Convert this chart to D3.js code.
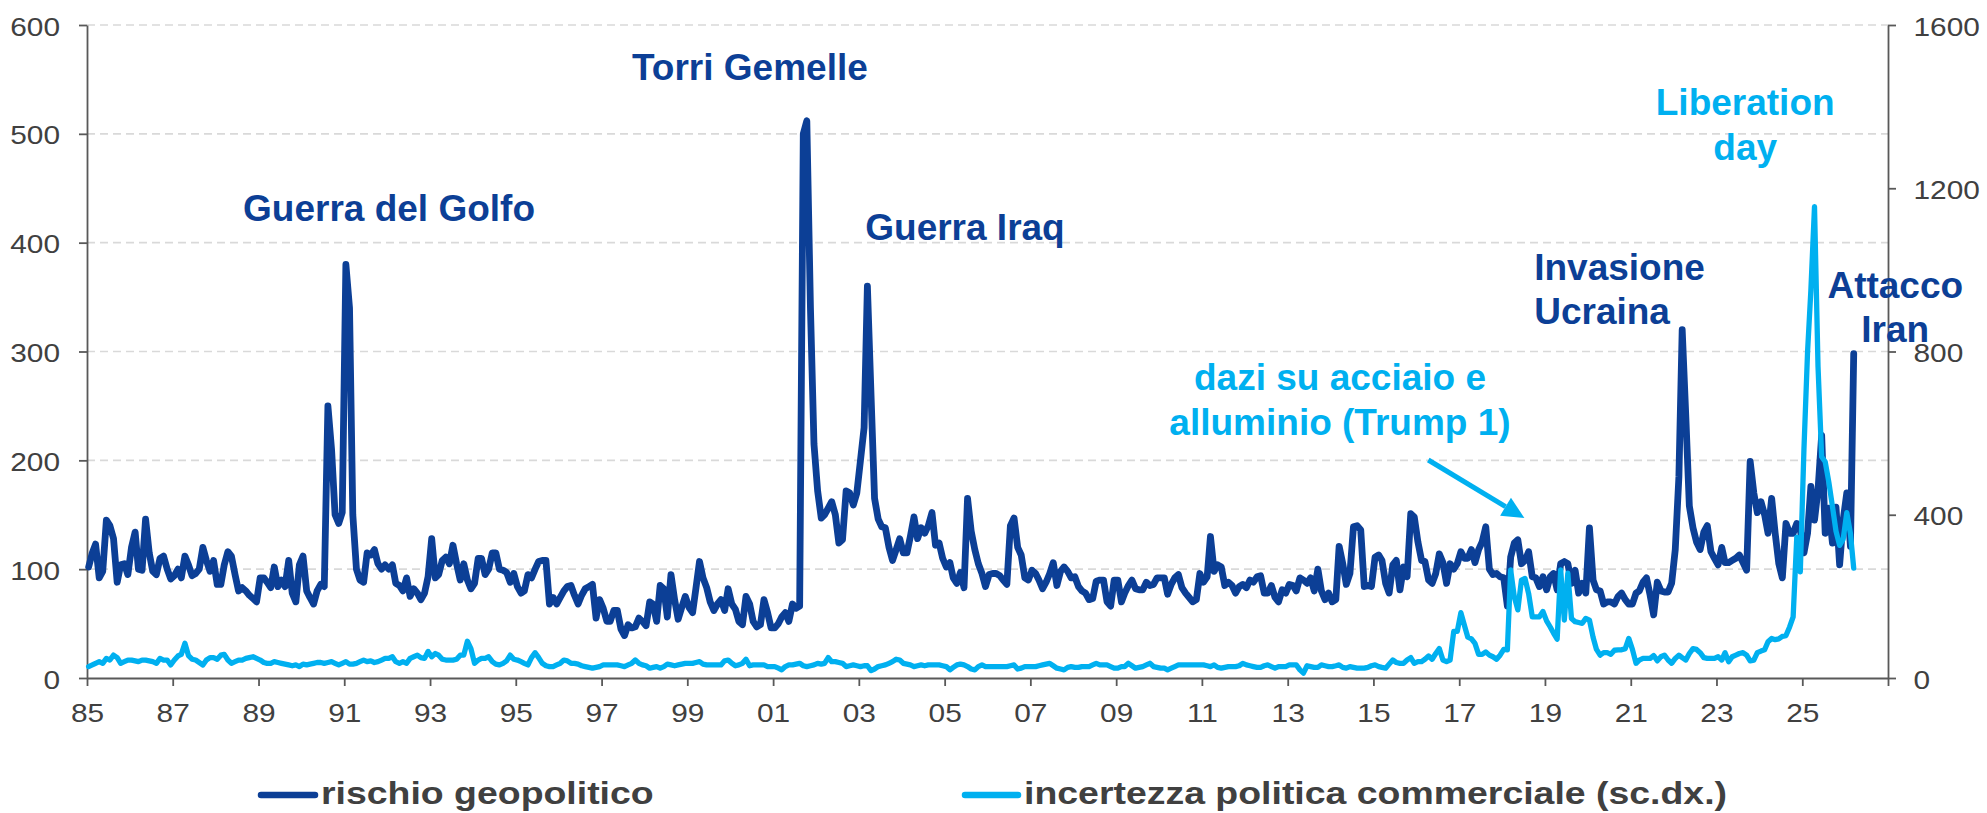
<!DOCTYPE html>
<html>
<head>
<meta charset="utf-8">
<script src="https://cdn.jsdelivr.net/npm/d3@7"></script>
<style>
html,body{margin:0;padding:0;background:#fff;}
svg{display:block;font-family:"Liberation Sans",Arial,Helvetica,sans-serif;}
</style>
</head>
<body>
<svg id="chart" width="1987" height="813"></svg>
<script>
// ---------------- DATA ----------------
const seriesNames = ["rischio geopolitico", "incertezza politica commerciale (sc.dx.)"];
const firstYear = 1985; // monthly data from Jan 1985

// Geopolitical risk index (left axis), monthly Jan 1985 - Mar 2026
const gpr = [
  102,115,123,92,98,145,140,128,88,104,105,95,      // 1985
  120,134,100,99,146,115,98,95,110,112,100,91,      // 1986
  94,100,92,112,104,94,96,100,120,108,98,108,       // 1987
  86,86,104,116,112,95,80,83,80,76,73,70,           // 1988
  92,92,88,83,102,84,90,84,108,78,70,104,           // 1989
  112,80,74,68,80,86,84,250,210,150,142,152,        // 1990
  380,340,150,100,90,88,115,113,118,105,100,104,    // 1991
  100,104,87,85,80,92,75,82,78,72,78,93,            // 1992
  128,92,95,108,111,105,122,105,90,105,90,82,       // 1993
  87,110,110,95,100,115,115,100,99,97,88,96,        // 1994
  84,78,80,95,92,100,107,108,108,68,74,68,          // 1995
  74,80,84,85,76,68,76,82,84,86,55,72,              // 1996
  64,52,52,62,62,45,39,49,46,47,55,52,              // 1997
  48,70,68,52,85,82,56,95,72,54,65,75,              // 1998
  65,60,82,107,92,83,70,62,68,72,62,82,             // 1999
  68,63,52,49,75,68,52,47,49,72,60,46,              // 2000
  46,50,56,60,52,68,64,66,500,512,340,215,          // 2001
  172,147,150,156,162,150,124,127,172,170,159,170,  // 2002
  200,230,360,260,165,146,139,138,120,108,118,128,  // 2003
  115,115,130,148,128,138,133,140,152,122,124,110,  // 2004
  102,106,92,87,97,83,165,135,118,105,96,84,        // 2005
  95,96,96,94,90,86,140,147,120,113,92,90,          // 2006
  99,96,90,82,88,96,106,85,98,102,98,92,            // 2007
  93,84,80,78,72,73,89,90,90,70,66,90,              // 2008
  90,70,78,85,90,82,81,81,88,85,86,92,              // 2009
  92,92,77,86,92,95,83,78,74,70,72,96,              // 2010
  88,93,130,98,104,102,85,88,85,78,84,86,           // 2011
  83,90,88,93,94,78,78,85,74,70,81,78,              // 2012
  86,85,80,92,90,87,92,80,100,80,72,78,             // 2013
  70,72,121,105,86,96,139,140,136,84,85,84,         // 2014
  111,113,108,87,78,104,108,81,102,93,151,148,      // 2015
  125,108,107,90,87,96,114,106,87,105,100,105,      // 2016
  116,110,110,118,106,118,125,139,100,95,96,93,     // 2017
  92,66,111,124,127,105,108,116,93,92,84,93,        // 2018
  81,93,96,81,105,107,105,87,99,78,87,78,           // 2019
  138,90,81,80,68,70,70,68,75,78,72,68,             // 2020
  68,78,80,88,92,76,58,88,80,79,79,87,              // 2021
  118,185,320,240,158,138,125,118,134,140,116,110,  // 2022
  104,120,106,106,108,110,113,106,99,199,170,152,   // 2023
  162,150,133,165,133,105,92,142,133,133,142,136,   // 2024
  115,133,176,145,173,223,133,156,124,157,104,145,  // 2025
  170,121,298                                       // 2026
];

// Trade policy uncertainty index (right axis), monthly Jan 1985 - Mar 2026
const tpu = [
  28,32,36,40,36,48,44,56,50,36,40,44,              // 1985
  44,42,40,44,44,42,40,36,48,44,44,32,              // 1986
  44,54,58,85,55,46,44,38,32,44,50,50,              // 1987
  46,56,58,44,36,40,44,44,48,50,52,48,              // 1988
  44,38,36,36,40,38,36,34,32,30,32,28,              // 1989
  34,32,34,36,38,38,36,38,40,36,32,36,              // 1990
  40,34,34,36,40,44,40,42,38,40,44,48,              // 1991
  48,52,40,36,40,36,48,52,56,50,48,65,              // 1992
  52,60,56,46,44,44,44,46,56,56,90,72,              // 1993
  36,44,48,48,52,40,34,32,36,42,56,46,              // 1994
  44,40,36,32,50,62,50,36,30,28,28,32,              // 1995
  36,44,42,36,36,34,30,28,26,24,26,28,              // 1996
  32,32,32,32,32,30,28,32,36,44,36,32,              // 1997
  30,24,26,28,24,28,34,32,30,32,34,36,              // 1998
  36,36,38,40,34,32,32,32,32,32,42,44,              // 1999
  36,30,32,36,46,30,32,32,32,32,28,28,              // 2000
  28,24,20,28,32,32,34,36,30,28,30,32,              // 2001
  36,34,36,50,40,40,38,36,28,30,32,30,              // 2002
  28,30,30,18,22,28,30,32,36,40,46,44,              // 2003
  36,34,32,28,30,32,30,32,32,32,32,30,              // 2004
  28,20,26,32,34,32,28,22,20,28,32,28,              // 2005
  28,28,28,28,28,28,30,32,22,24,28,28,              // 2006
  28,28,30,32,34,36,30,24,22,20,26,28,              // 2007
  26,26,28,28,28,32,36,32,32,32,28,24,              // 2008
  24,28,28,36,30,24,26,28,32,36,28,26,              // 2009
  24,24,20,24,28,32,32,32,32,32,32,32,              // 2010
  32,30,28,32,26,24,26,28,28,28,30,36,              // 2011
  32,30,28,26,26,30,32,28,24,28,28,28,              // 2012
  32,32,32,20,12,30,28,26,26,32,30,28,              // 2013
  28,30,32,26,24,28,26,24,24,24,26,30,              // 2014
  32,28,26,24,34,44,38,36,36,44,50,36,              // 2015
  40,40,46,54,46,60,72,44,40,44,114,114,            // 2016
  160,128,100,96,85,58,58,64,56,52,46,56,           // 2017
  70,69,265,199,167,240,244,207,150,150,150,163,    // 2018
  140,125,110,95,265,142,257,146,138,136,134,146,   // 2019
  142,100,70,56,62,62,58,68,69,69,72,97,            // 2020
  70,36,44,48,48,48,55,42,52,56,44,36,              // 2021
  48,56,50,44,60,72,70,62,50,48,48,48,              // 2022
  52,44,62,40,52,56,60,62,56,42,44,62,              // 2023
  66,69,89,97,94,96,102,104,125,150,345,260,        // 2024
  560,800,950,1155,763,542,530,480,420,360,325,340, // 2025
  405,354,269                                       // 2026
];

const leftTicks = [0, 100, 200, 300, 400, 500, 600];
const rightTicks = [0, 400, 800, 1200, 1600];
const xTickYears = d3.range(1985, 2028, 2);     // 85 ... 27
const xLabelYears = d3.range(1985, 2026, 2);    // labelled 85 ... 25

// annotation texts, anchored in data units (fractional year, left-axis value)
const annotations = [
  {lines: ["Guerra del Golfo"], year: 1988.64, value: 420, anchor: "start", kind: "gpr"},
  {lines: ["Torri Gemelle"], year: 1997.71, value: 549.5, anchor: "start", kind: "gpr"},
  {lines: ["Guerra Iraq"], year: 2003.15, value: 402, anchor: "start", kind: "gpr"},
  {lines: ["dazi su acciaio e", "alluminio (Trump 1)"], year: 2014.22, value: 264.6, anchor: "middle", kind: "tpu"},
  {lines: ["Invasione", "Ucraina"], year: 2018.75, value: 365.7, anchor: "start", kind: "gpr"},
  {lines: ["Liberation", "day"], year: 2023.67, value: 517.3, anchor: "middle", kind: "tpu"},
  {lines: ["Attacco", "Iran"], year: 2027.17, value: 349.2, anchor: "middle", kind: "gpr"}
];
const arrow = {from: [2016.28, 200.3], to: [2018.52, 147]};

// ---------------- STYLE ----------------
const colGPR = "#0c3f96";
const colTPU = "#00b0f0";
const axisCol = "#595959";
const textCol = "#404040";
const stretch = 1.17;   // horizontal stretch of axis & legend text in the original

// ---------------- SCALES ----------------
const x = d3.scaleTime().domain([new Date(1985, 0, 1), new Date(2027, 0, 1)]).range([87, 1888]);
const yL = d3.scaleLinear().domain([0, 600]).range([678, 25]);
const yR = d3.scaleLinear().domain([0, 1600]).range([678, 25]);
const monthDate = i => new Date(firstYear, i, 15);
const yearDate = yf => {
  const y0 = Math.floor(yf);
  const a = new Date(y0, 0, 1), b = new Date(y0 + 1, 0, 1);
  return new Date(+a + (yf - y0) * (b - a));
};

const svg = d3.select("#chart");

// gridlines
svg.append("g").selectAll("line").data(leftTicks.filter(d => d > 0)).join("line")
  .attr("x1", x.range()[0]).attr("x2", x.range()[1])
  .attr("y1", d => yL(d)).attr("y2", d => yL(d))
  .attr("stroke", "#d9d9d9").attr("stroke-width", 1.6).attr("stroke-dasharray", "8,5");

function styleAxis(g) {
  g.select(".domain").attr("stroke", axisCol).attr("stroke-width", 1.8);
  g.selectAll(".tick line").attr("stroke", axisCol).attr("stroke-width", 1.8);
  g.selectAll(".tick text").attr("fill", textCol).attr("font-size", 25.5)
    .attr("font-family", "'Liberation Sans', Arial, sans-serif")
    .attr("transform", `scale(${stretch},1)`).attr("dy", 0);
}

// left axis
const gL = svg.append("g").attr("transform", "translate(87,0)")
  .call(d3.axisLeft(yL).tickValues(leftTicks).tickSize(8).tickSizeOuter(0).tickFormat(d3.format("d")));
styleAxis(gL);
gL.selectAll(".tick text").attr("x", -27 / stretch).attr("y", 10).attr("text-anchor", "end");

// right axis
const gR = svg.append("g").attr("transform", "translate(1888,0)")
  .call(d3.axisRight(yR).tickValues(rightTicks).tickSize(8).tickSizeOuter(0).tickFormat(d3.format("d")));
styleAxis(gR);
gR.selectAll(".tick text").attr("x", 25.5 / stretch).attr("y", 10).attr("text-anchor", "start");

// bottom axis
const gB = svg.append("g").attr("transform", "translate(0,678)")
  .call(d3.axisBottom(x).tickValues(xTickYears.map(y => new Date(y, 0, 1))).tickSize(8).tickSizeOuter(0)
    .tickFormat(d => xLabelYears.includes(d.getFullYear()) ? d3.timeFormat("%y")(d) : ""));
styleAxis(gB);
gB.selectAll(".tick text").attr("x", 0).attr("y", 43.7).attr("text-anchor", "middle");

// series lines
const lineL = d3.line().x((d, i) => x(monthDate(i))).y(d => yL(d));
const lineR = d3.line().x((d, i) => x(monthDate(i))).y(d => yR(d));
svg.append("path").datum(gpr).attr("d", lineL).attr("fill", "none")
  .attr("stroke", colGPR).attr("stroke-width", 6.8).attr("stroke-linejoin", "round").attr("stroke-linecap", "round");
svg.append("path").datum(tpu).attr("d", lineR).attr("fill", "none")
  .attr("stroke", colTPU).attr("stroke-width", 5.3).attr("stroke-linejoin", "round").attr("stroke-linecap", "round");

// arrow
const ax1 = x(yearDate(arrow.from[0])), ay1 = yL(arrow.from[1]);
const ax2 = x(yearDate(arrow.to[0])), ay2 = yL(arrow.to[1]);
const len = Math.hypot(ax2 - ax1, ay2 - ay1);
const ux = (ax2 - ax1) / len, uy = (ay2 - ay1) / len;
const headL = 22, headW = 10.5;
const bx = ax2 - ux * headL, by = ay2 - uy * headL;
svg.append("line").attr("x1", ax1).attr("y1", ay1).attr("x2", bx).attr("y2", by)
  .attr("stroke", colTPU).attr("stroke-width", 5);
svg.append("polygon")
  .attr("points", [[ax2, ay2], [bx - uy * headW, by + ux * headW], [bx + uy * headW, by - ux * headW]].map(p => p.join(",")).join(" "))
  .attr("fill", colTPU);

// annotations
annotations.forEach(a => {
  const t = svg.append("text")
    .attr("x", x(yearDate(a.year))).attr("y", yL(a.value))
    .attr("text-anchor", a.anchor).attr("font-size", 37).attr("font-weight", "bold")
    .attr("fill", a.kind === "gpr" ? colGPR : colTPU);
  a.lines.forEach((ln, k) => {
    t.append("tspan").attr("x", x(yearDate(a.year))).attr("dy", k === 0 ? 0 : 44.5).text(ln);
  });
});

// legend
const legend = [
  {name: seriesNames[0], color: colGPR, x1: 261, x2: 315, tx: 321},
  {name: seriesNames[1], color: colTPU, x1: 965, x2: 1018, tx: 1024}
];
legend.forEach(l => {
  svg.append("line").attr("x1", l.x1).attr("x2", l.x2).attr("y1", 795).attr("y2", 795)
    .attr("stroke", l.color).attr("stroke-width", 6.5).attr("stroke-linecap", "round");
  svg.append("text").attr("transform", `translate(${l.tx},804) scale(${stretch},1)`)
    .attr("font-size", 32).attr("font-weight", "bold").attr("fill", textCol).text(l.name);
});
</script>
</body>
</html>
